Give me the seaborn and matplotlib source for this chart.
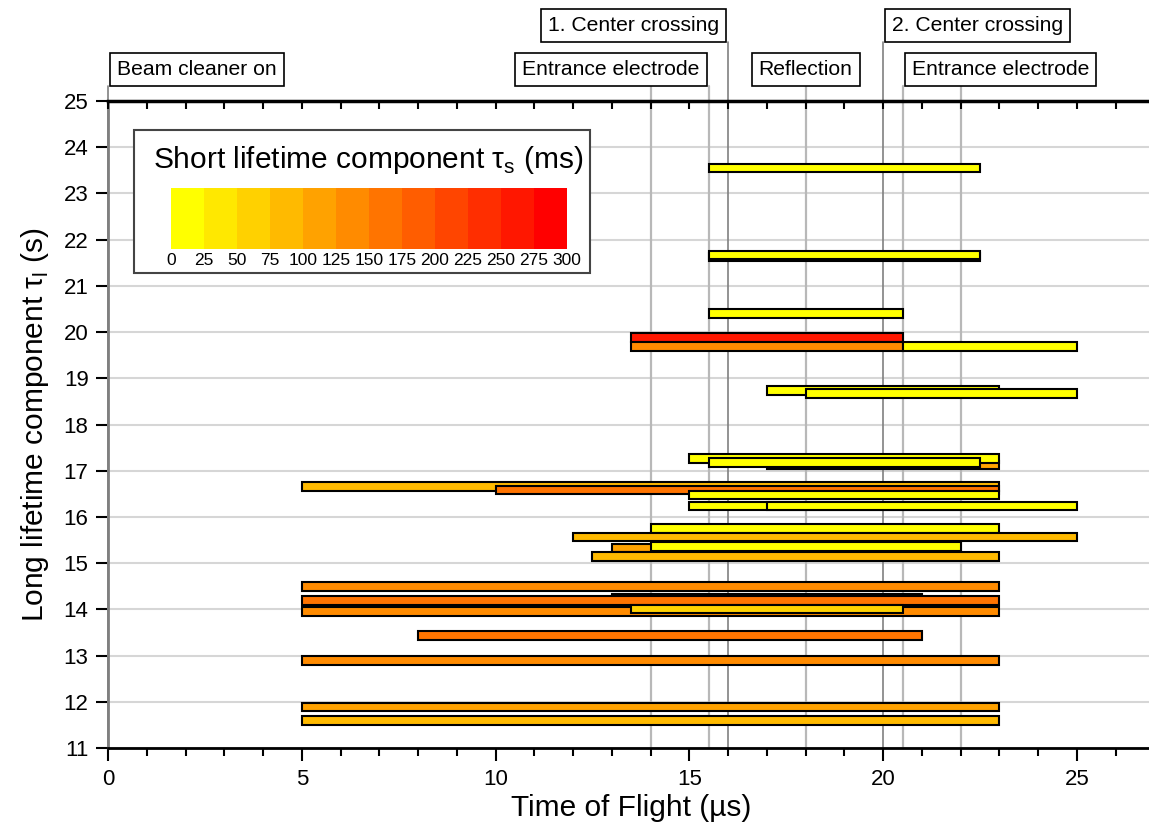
import numpy as np
import pandas as pd
import seaborn as sns
import matplotlib
matplotlib.use("Agg")
import matplotlib.pyplot as plt
from matplotlib.colors import ListedColormap, BoundaryNorm
from matplotlib.cm import ScalarMappable
from matplotlib.patches import Rectangle
from matplotlib.ticker import MultipleLocator
from matplotlib.transforms import blended_transform_factory

# Storage-time windows (start / end of time of flight, µs), long lifetime (s)
# and short lifetime (ms) per measurement, in drawing order
tof_start = [15.5, 15.5, 15.5, 15.5, 13.5, 13.5, 20.5, 17.0, 18.0,
             17.0, 15.0, 15.5, 5.0, 10.0, 15.0, 15.0, 17.0,
             14.0, 12.0, 13.0, 14.0, 12.5,
             5.0, 13.0, 5.0, 5.0, 13.5, 8.0, 5.0, 5.0, 5.0]
tof_end = [22.5, 22.5, 22.5, 20.5, 20.5, 20.5, 25.0, 23.0, 25.0,
           23.0, 23.0, 22.5, 23.0, 23.0, 23.0, 23.0, 25.0,
           23.0, 25.0, 21.0, 22.0, 23.0,
           23.0, 21.0, 23.0, 23.0, 20.5, 21.0, 23.0, 23.0, 23.0]
tau_long = [23.55, 21.62, 21.67, 20.40, 19.88, 19.69, 19.69, 18.73, 18.67,
            17.12, 17.26, 17.18, 16.66, 16.58, 16.47, 16.24, 16.24,
            15.75, 15.57, 15.33, 15.36, 15.14,
            14.49, 14.25, 14.19, 13.95, 14.01, 13.43, 12.89, 11.89, 11.60]
tau_short = [10, 15, 10, 10, 260, 140, 10, 10, 10,
             110, 10, 10, 90, 160, 10, 10, 10,
             10, 90, 110, 10, 90,
             135, 70, 160, 135, 60, 165, 140, 115, 85]

# Experiment timing markers
marker_times = [0, 14, 15.5, 16, 18, 20, 20.5, 22]
marker_row = [0, 0, 0, 1, 0, 1, 0, 0]
marker_dark = [True, False, False, True, False, True, False, False]
event_labels = ["Beam cleaner on", "Entrance electrode", "1. Center crossing",
                "Reflection", "2. Center crossing", "Entrance electrode"]
event_x = [0, 15.5, 16, 18, 20, 20.5]
event_align = ["left", "right", "right", "center", "left", "left"]
event_row = [0, 0, 1, 0, 1, 0]

level_edges = np.arange(0, 301, 25)
upper_ticks = np.arange(0, 28, 1)

sns.set_theme(style="white")
plt.rcParams["font.family"] = ["Liberation Sans", "DejaVu Sans"]
plt.rcParams["mathtext.fontset"] = "custom"
plt.rcParams["mathtext.rm"] = "Liberation Sans"
for key in ["text.color", "axes.labelcolor", "xtick.color", "ytick.color"]:
    plt.rcParams[key] = "black"

palette = sns.blend_palette(["#FFFF00", "#FF0000"], len(level_edges) - 1)
cmap = ListedColormap(palette)
norm = BoundaryNorm(level_edges, cmap.N)

df = pd.DataFrame({"start": tof_start, "end": tof_end,
                   "tau_l": tau_long, "tau_s": tau_short})

fig = plt.figure(figsize=(11.49, 8.27), dpi=100)
ax = fig.add_axes([108 / 1149, 1 - 748 / 827, 1046.5 / 1149, 647 / 827])

ax.barh(df["tau_l"], df["end"] - df["start"], left=df["start"], height=0.185,
        color=cmap(norm(df["tau_s"].values)), edgecolor="black",
        linewidth=1.5, zorder=4)

ax.set_xlim(0, 27)
ax.set_ylim(11, 25)
ax.xaxis.set_major_locator(MultipleLocator(5))
ax.xaxis.set_minor_locator(MultipleLocator(1))
ax.yaxis.set_major_locator(MultipleLocator(1))
ax.yaxis.grid(True, color="#d6d6d6", linewidth=1.5, zorder=0)
ax.xaxis.grid(False)
ax.set_axisbelow(True)

ax.tick_params(axis="x", which="major", direction="out", length=9, width=1.5,
               labelsize=16, pad=6, bottom=True, top=False)
ax.tick_params(axis="x", which="minor", direction="out", length=5.5, width=1.5,
               bottom=True, top=False)
ax.tick_params(axis="y", which="major", direction="out", length=9, width=1.5,
               labelsize=16, pad=5, left=True, right=False)

# Inward tick marks hanging from the upper frame
upper = blended_transform_factory(ax.transData, ax.transAxes)
ax.vlines(upper_ticks, 1 - 8 / 647, 1, transform=upper, colors="black",
          linewidth=1.5, zorder=5, clip_on=False)

ax.spines["top"].set_color("black")
ax.spines["top"].set_linewidth(2.5)
ax.spines["bottom"].set_color("black")
ax.spines["bottom"].set_linewidth(2)
ax.spines["left"].set_color("#7f7f7f")
ax.spines["left"].set_linewidth(2)
ax.spines["right"].set_visible(False)

ax.set_xlabel("Time of Flight (µs)", fontsize=21.5, labelpad=3)
ax.set_ylabel("Long lifetime component τ$_\\mathregular{l}$ (s)",
              fontsize=21.5, labelpad=9)

# Timing marker lines and their labels above the frame
row_top = [1 + 15 / 647, 1 + 59 / 647]
for t, r, dark in zip(marker_times, marker_row, marker_dark):
    ax.plot([t, t], [0, row_top[r]], transform=upper, clip_on=False,
            color="#808080" if dark else "#b8b8b8",
            linewidth=1.2 if dark else 1.6, zorder=2)

pad = 0.33
fs = 15.2
for label, x, ha, r in zip(event_labels, event_x, event_align, event_row):
    dx = {"left": pad * fs + 1.5, "right": -pad * fs - 1.5, "center": 0}[ha]
    ax.annotate(label, xy=(x, row_top[r]), xycoords=upper,
                xytext=(dx, pad * fs), textcoords="offset points",
                ha=ha, va="bottom", fontsize=fs, annotation_clip=False,
                bbox=dict(boxstyle=f"square,pad={pad}", fc="white",
                          ec="black", lw=1.2), zorder=6)

# Colour scale for the short lifetime component
frame = Rectangle((134 / 1149, 1 - 273 / 827), 456 / 1149, 143 / 827,
                  transform=fig.transFigure, facecolor="white",
                  edgecolor="#444444", linewidth=1.5, zorder=1)
fig.patches.append(frame)
cax = fig.add_axes([171 / 1149, 1 - 249 / 827, 396 / 1149, 61 / 827])
cax.set_zorder(2)
cb = fig.colorbar(ScalarMappable(norm=norm, cmap=cmap), cax=cax,
                  orientation="horizontal", ticks=level_edges)
cb.outline.set_visible(False)
cax.tick_params(length=0, labelsize=12.5, pad=3)
fig.text(368 / 1149, 1 - 160 / 827,
         "Short lifetime component τ$_\\mathregular{s}$ (ms)",
         ha="center", va="center", fontsize=21.5, zorder=3)

fig.savefig("out.png", dpi=100)
